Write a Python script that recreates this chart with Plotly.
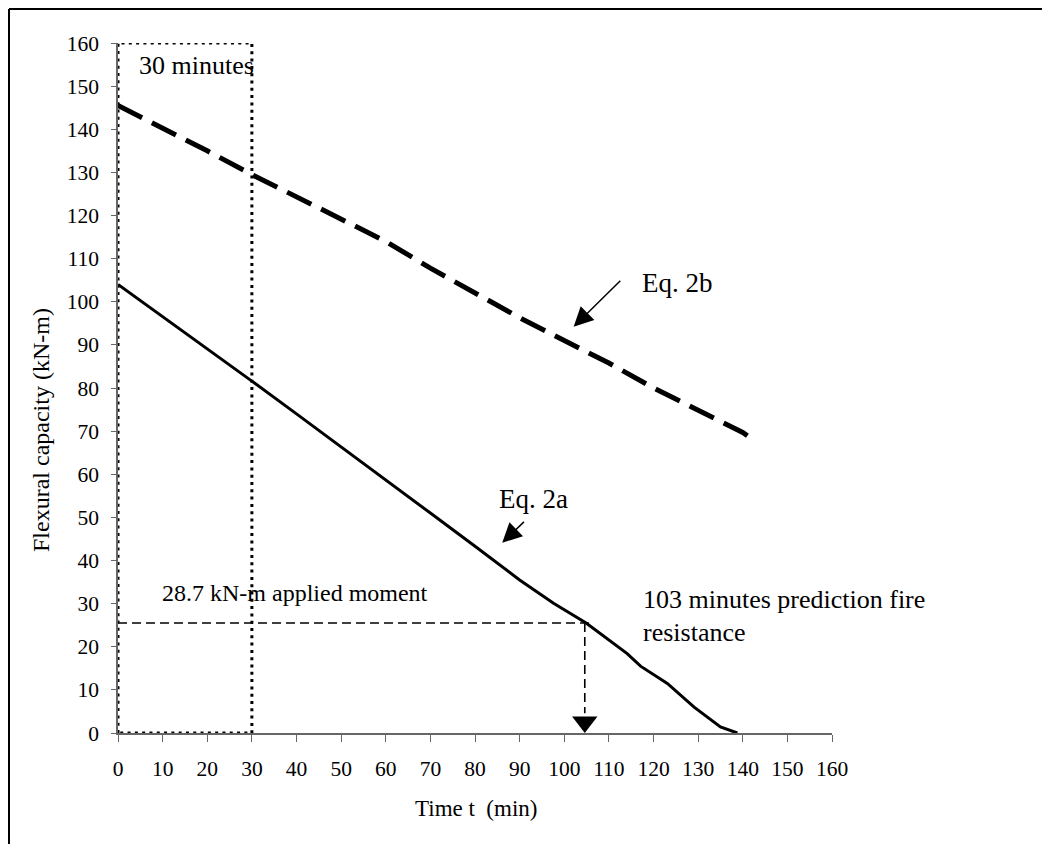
import plotly.graph_objects as go

# ---- data ----
time_2a = [0, 10, 20, 30, 40, 50, 60, 70, 80, 90, 97.6, 104.9, 114.1, 117.1, 123.1, 129.1, 135, 138.8]
cap_2a = [104, 96.6, 89.1, 81.6, 74, 66.4, 58.7, 51, 43.3, 35.5, 30.1, 25.5, 18.4, 15.5, 11.5, 6, 1.4, 0]

time_2b = [0, 10, 20, 30, 40, 50, 60, 70, 80, 90, 100, 110, 120, 130, 140, 143]
cap_2b = [145.5, 140.3, 135, 129.5, 124.4, 119.2, 114, 107.8, 102, 96.3, 91, 85.8, 80, 74.8, 69.7, 67.5]

window_t = [0, 0, 30, 30, 0]
window_c = [0, 160, 160, 0, 0]

moment_t = [0, 106]
moment_c = [25.5, 25.5]
pred_t = [104.6, 104.6]
pred_c = [25.5, 4.6]
arrow_t = [104.6]
arrow_c = [2.55]

x_ticks = list(range(0, 161, 10))
y_ticks = list(range(0, 161, 10))

FONT = "Liberation Serif"
OFF = 8  # page body margin
W, H = 1050 - OFF, 844 - OFF
L, T = 118 - OFF, 43 - OFF
R = W + OFF - 832
B = H + OFF - 733
pw, ph = W - L - R, H - T - B


def px(xp):
    return (xp - OFF - L) / pw


def py(yp):
    return (H - B - (yp - OFF)) / ph


fig = go.Figure()
fig.add_trace(go.Scatter(x=window_t, y=window_c, mode="lines",
                         line=dict(color="black", width=3, dash="3px,4.3px"), hoverinfo="skip"))
fig.add_trace(go.Scatter(x=time_2b, y=cap_2b, mode="lines",
                         line=dict(color="black", width=5, dash="27px,11px"), name="Eq. 2b"))
fig.add_trace(go.Scatter(x=time_2a, y=cap_2a, mode="lines",
                         line=dict(color="black", width=3), name="Eq. 2a"))
fig.add_trace(go.Scatter(x=moment_t, y=moment_c, mode="lines",
                         line=dict(color="black", width=1.6, dash="9px,5px"), hoverinfo="skip"))
fig.add_trace(go.Scatter(x=pred_t, y=pred_c, mode="lines",
                         line=dict(color="black", width=1.6, dash="9px,5px"), hoverinfo="skip"))
fig.add_trace(go.Scatter(x=arrow_t, y=arrow_c, mode="markers", cliponaxis=False,
                         marker=dict(symbol="triangle-down", size=22, color="black"), hoverinfo="skip"))

ann = []


def txt(x, y, s, size, xanchor="left", yanchor="middle"):
    ann.append(dict(x=x, y=y, xref="x", yref="y", text=s, showarrow=False,
                    xanchor=xanchor, yanchor=yanchor, align="left",
                    font=dict(family=FONT, size=size, color="black")))


txt(4.3, 154.7, "30 minutes", 26)
txt(9.5, 32.4, "28.7 kN-m applied moment", 24)
txt(117.3, 31.0, "103 minutes prediction fire", 26)
txt(117.3, 23.2, "resistance", 26)
txt(117.0, 104.3, "Eq. 2b", 27)
txt(84.9, 54.2, "Eq. 2a", 27)

# arrows
ann.append(dict(x=102.1, y=94.2, ax=112.9, ay=105.2, xref="x", yref="y", axref="x", ayref="y",
                text="", showarrow=True, arrowhead=2, arrowsize=2.6, arrowwidth=1.5, arrowcolor="black"))
ann.append(dict(x=86.1, y=44.1, ax=91.3, ay=49.3, xref="x", yref="y", axref="x", ayref="y",
                text="", showarrow=True, arrowhead=2, arrowsize=2.6, arrowwidth=1.5, arrowcolor="black"))

# axis titles
ann.append(dict(x=px(476), y=py(808), xref="paper", yref="paper",
                text="Time t  (min)", showarrow=False, xanchor="center", yanchor="middle",
                font=dict(family=FONT, size=23, color="black")))
ann.append(dict(x=px(41), y=py(430), xref="paper", yref="paper",
                text="Flexural capacity (kN-m)", showarrow=False, textangle=-90,
                xanchor="center", yanchor="middle",
                font=dict(family=FONT, size=24, color="black")))

shapes = [
    dict(type="line", xref="paper", yref="paper",
         x0=px(OFF + 1), x1=px(1060), y0=py(OFF + 1), y1=py(OFF + 1),
         line=dict(color="black", width=2)),
    dict(type="line", xref="paper", yref="paper",
         x0=px(OFF + 1), x1=px(OFF + 1), y0=py(OFF + 1), y1=py(860),
         line=dict(color="black", width=2)),
]

fig.update_layout(
    width=W, height=H, margin=dict(l=L, r=R, t=T, b=B),
    paper_bgcolor="white", plot_bgcolor="white", showlegend=False,
    font=dict(family=FONT, size=21, color="black"),
    annotations=ann, shapes=shapes,
    xaxis=dict(range=[0, 160], tickvals=x_ticks, ticktext=[str(v) for v in x_ticks],
               showgrid=False, zeroline=False, showline=True, linecolor="#666", linewidth=1.5,
               ticks="outside", ticklen=7, tickcolor="#666", tickwidth=1.2,
               ticklabelstandoff=8, tickfont=dict(family=FONT, size=21.5, color="black")),
    yaxis=dict(range=[0, 160], tickvals=y_ticks, ticktext=[str(v) for v in y_ticks],
               showgrid=False, zeroline=False, showline=True, linecolor="#666", linewidth=1.5,
               ticks="outside", ticklen=5, tickcolor="#666", tickwidth=1.2,
               ticklabelstandoff=8, tickfont=dict(family=FONT, size=21.5, color="black")),
)

fig.write_html("out.html")
